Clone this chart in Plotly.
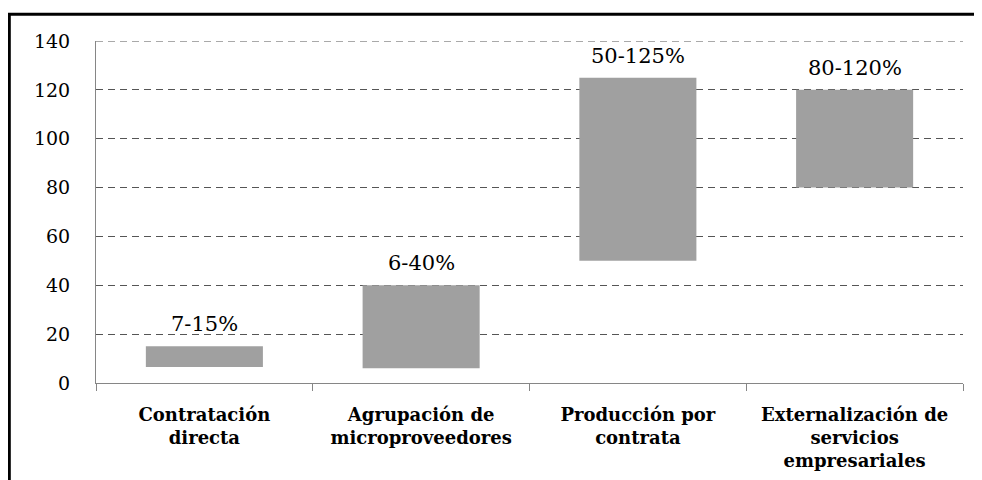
import plotly.graph_objects as go

categories = ["Contratación<br>directa", "Agrupación de<br>microproveedores",
              "Producción por<br>contrata", "Externalización de<br>servicios<br>empresariales"]
low_values = [6.5, 6, 50, 80]
high_values = [15, 40, 125, 120]
range_labels = ["7-15%", "6-40%", "50-125%", "80-120%"]
y_ticks = [0, 20, 40, 60, 80, 100, 120, 140]

heights = [h - l for h, l in zip(high_values, low_values)]
SERIF = "DejaVu Serif"

fig = go.Figure()
fig.add_trace(go.Bar(
    x=categories, y=heights, base=low_values,
    marker=dict(color="#A0A0A0", line=dict(width=0)),
    width=0.54, showlegend=False, hoverinfo="skip",
))

for c, h, t in zip(categories, high_values, range_labels):
    fig.add_annotation(x=c, y=h, text=t, showarrow=False, yanchor="bottom",
                       yshift=8, font=dict(family=SERIF, size=21, color="#000"))

fig.update_layout(
    width=974, height=472,
    margin=dict(l=88, r=19, t=33, b=97, autoexpand=False),
    paper_bgcolor="white", plot_bgcolor="white",
    font=dict(family=SERIF, color="#000"),
    bargap=0.46,
)
fig.update_xaxes(
    automargin=False,
    showline=True, linecolor="#868686", linewidth=1,
    ticks="outside", tickson="boundaries", ticklen=7, tickcolor="#868686",
    showgrid=False,
    tickfont=dict(family=SERIF, size=18, color="#000"),
    tickmode="array", tickvals=categories,
    ticktext=["<b>" + c + "</b>" for c in categories],
    ticklabelstandoff=15,
)
fig.update_yaxes(
    automargin=False,
    range=[0, 140], tickvals=y_ticks,
    showline=True, linecolor="#868686", linewidth=1,
    showgrid=True, gridcolor="#555555", gridwidth=1, griddash="7px,5px",
    zeroline=False,
    ticks="", ticklabelstandoff=21,
    tickfont=dict(family=SERIF, size=19, color="#000"),
)

fig.add_shape(type="line", xref="paper", yref="y", x0=0, x1=1, y0=y_ticks[-1], y1=y_ticks[-1],
              line=dict(color="#555555", width=1, dash="7px,5px"))

fig.add_shape(type="rect", xref="paper", yref="paper",
              x0=-0.1, x1=1.03, y0=-0.35, y1=1.078,
              line=dict(color="black", width=3), fillcolor="rgba(0,0,0,0)", layer="above")

fig.write_html("out.html")
